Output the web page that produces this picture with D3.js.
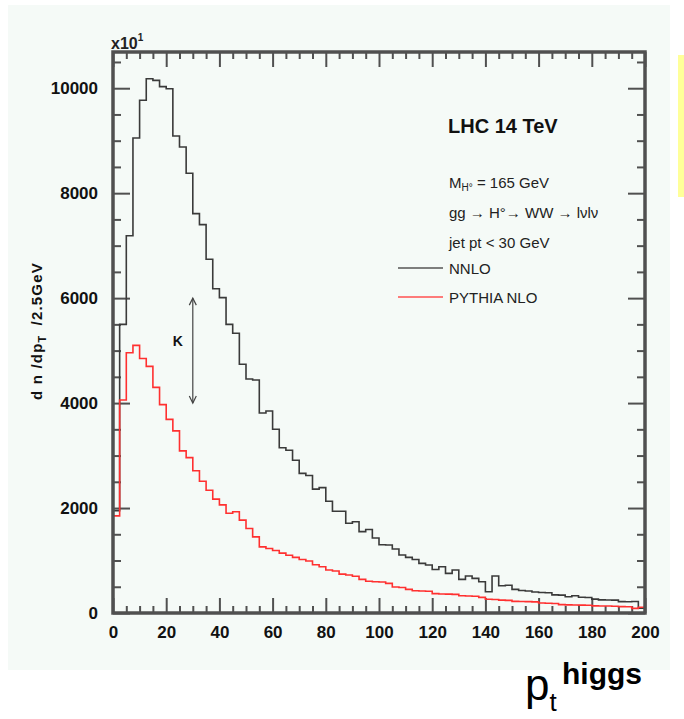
<!DOCTYPE html>
<html>
<head>
<meta charset="utf-8">
<script src="https://cdn.jsdelivr.net/npm/d3@7"></script>
<style>
  html, body { margin: 0; padding: 0; background: #ffffff; }
  svg { display: block; }
  text { font-family: "Liberation Sans", Arial, Helvetica, sans-serif; }
</style>
</head>
<body>
<svg id="chart" width="684" height="719"></svg>
<script>
// ---------------- data ----------------
const binWidth = 2.5;               // GeV
const xDomain = [0, 200];
const yDomain = [0, 10690];
const xMajorTicks = [0, 20, 40, 60, 80, 100, 120, 140, 160, 180, 200];
const yMajorTicks = [0, 2000, 4000, 6000, 8000, 10000];

// NNLO histogram (dn/dpT per 2.5 GeV, in units of 10^1)
const nnlo = [
  1950, 5500, 7190, 9050, 9770, 10180, 10150, 10030, 9990, 9090,
  8880, 8380, 7610, 7400, 6740, 6180, 6010, 5500, 5330, 4740,
  4460, 4440, 3810, 3850, 3500, 3150, 3100, 2910, 2660, 2620,
  2360, 2390, 2130, 1940, 1940, 1710, 1740, 1550, 1590, 1430,
  1300, 1295, 1220, 1105, 1060, 1020, 945, 915, 830, 880,
  755, 820, 640, 705, 660, 595, 405, 705, 520, 530,
  450, 430, 420, 400, 390, 385, 345, 340, 310, 330,
  300, 295, 265, 250, 248, 245, 216, 215, 220, 90
];
// PYTHIA NLO histogram
const pythia = [
  1850, 4060, 4960, 5100, 4850, 4700, 4300, 3970, 3690, 3470,
  3090, 2960, 2710, 2510, 2340, 2170, 2060, 1900, 1930, 1770,
  1610, 1450, 1260, 1230, 1190, 1140, 1100, 1060, 1020, 990,
  920, 880, 820, 800, 740, 725, 700, 640, 605, 596,
  590, 565, 495, 485, 451, 425, 419, 415, 370, 362,
  360, 355, 328, 324, 320, 298, 262, 258, 245, 240,
  222, 218, 216, 212, 190, 185, 182, 160, 155, 152,
  150, 148, 135, 133, 132, 130, 121, 118, 89, 110
];
const seriesNames = ["NNLO", "PYTHIA NLO"];
const seriesColors = ["#3a3a3a", "#ff3030"];
const infoLines = ["LHC 14 TeV", "M_H° = 165 GeV", "gg → H°→ WW → lνlν", "jet pt < 30 GeV"];
const kArrow = { x: 30, y0: 4000, y1: 6000, label: "K" };

// ---------------- layout ----------------
const svg = d3.select("#chart");
const L = 113, R = 645, T = 52, B = 613;
const x = d3.scaleLinear().domain(xDomain).range([L, R]);
const y = d3.scaleLinear().domain(yDomain).range([B, T]);

// page panels
svg.append("rect").attr("x", 0).attr("y", 0).attr("width", 684).attr("height", 719).attr("fill", "#ffffff");
svg.append("rect").attr("x", 8).attr("y", 5).attr("width", 662).attr("height", 665).attr("fill", "#f5faf7");
svg.append("rect").attr("x", 678).attr("y", 55).attr("width", 6).attr("height", 142).attr("fill", "#ffff99");

const axisColor = "#505050";

const xMinor = d3.range(0, 201, 5).filter(v => v % 20 !== 0);
const yMinor = d3.range(0, 10690, 500).filter(v => v % 2000 !== 0);

function styleAxis(g) {
  g.select(".domain").remove();
  g.selectAll(".tick line").attr("stroke", axisColor).attr("stroke-width", 2);
}

// bottom
svg.append("g").attr("transform", `translate(0,${B})`)
  .call(d3.axisBottom(x).tickValues(xMinor).tickSize(-7).tickFormat(""))
  .call(styleAxis);
const xAxisG = svg.append("g").attr("transform", `translate(0,${B})`)
  .call(d3.axisBottom(x).tickValues(xMajorTicks).tickSize(-15).tickPadding(13).tickFormat(d3.format("d")))
  .call(styleAxis);
xAxisG.selectAll("text").attr("font-size", 17).attr("font-weight", "bold").attr("fill", "#111");

// top
svg.append("g").attr("transform", `translate(0,${T})`)
  .call(d3.axisTop(x).tickValues(xMinor).tickSize(-7).tickFormat(""))
  .call(styleAxis);
svg.append("g").attr("transform", `translate(0,${T})`)
  .call(d3.axisTop(x).tickValues(xMajorTicks).tickSize(-15).tickFormat(""))
  .call(styleAxis);

// left
svg.append("g").attr("transform", `translate(${L},0)`)
  .call(d3.axisLeft(y).tickValues(yMinor).tickSize(-8).tickFormat(""))
  .call(styleAxis);
const yAxisG = svg.append("g").attr("transform", `translate(${L},0)`)
  .call(d3.axisLeft(y).tickValues(yMajorTicks).tickSize(-17).tickPadding(15).tickFormat(d3.format("d")))
  .call(styleAxis);
yAxisG.selectAll("text").attr("font-size", 17).attr("font-weight", "bold").attr("fill", "#111");

// right
svg.append("g").attr("transform", `translate(${R},0)`)
  .call(d3.axisRight(y).tickValues(yMinor).tickSize(-8).tickFormat(""))
  .call(styleAxis);
svg.append("g").attr("transform", `translate(${R},0)`)
  .call(d3.axisRight(y).tickValues(yMajorTicks).tickSize(-17).tickFormat(""))
  .call(styleAxis);

// histograms
function stepPoints(vals) {
  const pts = vals.map((v, i) => [i * binWidth, v]);
  pts.push([vals.length * binWidth, vals[vals.length - 1]]);
  return pts;
}
const line = d3.line().x(d => x(d[0])).y(d => y(d[1])).curve(d3.curveStepAfter);
[nnlo, pythia].forEach((vals, i) => {
  svg.append("path").datum(stepPoints(vals))
    .attr("d", line).attr("fill", "none")
    .attr("stroke", seriesColors[i]).attr("stroke-width", 1.6);
});

// frame
svg.append("rect").attr("x", L).attr("y", T).attr("width", R - L).attr("height", B - T)
  .attr("fill", "none").attr("stroke", axisColor).attr("stroke-width", 3.5);

// x10^1
const exp = svg.append("text").attr("x", 111).attr("y", 49).attr("font-size", 16).attr("font-weight", "bold").attr("fill", "#222");
exp.append("tspan").text("x10");
exp.append("tspan").attr("font-size", 10).attr("dy", -8).text("1");

// y title
const yt = svg.append("text").attr("transform", `translate(42,331) rotate(-90)`)
  .attr("text-anchor", "middle").attr("font-size", 15).attr("font-weight", "bold")
  .attr("letter-spacing", 1.2).attr("fill", "#111");
yt.append("tspan").text("d n /dp");
yt.append("tspan").attr("font-size", 11).attr("dy", 4).text("T");
yt.append("tspan").attr("dy", -4).attr("dx", 9).text("/2.5GeV");

// info text
svg.append("text").attr("x", 448).attr("y", 133).attr("font-size", 20).attr("font-weight", "bold")
  .attr("fill", "#111").text(infoLines[0]);
const m = svg.append("text").attr("x", 449).attr("y", 188).attr("font-size", 15).attr("fill", "#222");
m.append("tspan").text("M");
m.append("tspan").attr("font-size", 10).attr("dy", 3).text("H°");
m.append("tspan").attr("dy", -3).text(" = 165 GeV");
svg.append("text").attr("x", 449).attr("y", 218).attr("font-size", 15).attr("fill", "#222").text(infoLines[2]);
svg.append("text").attr("x", 449).attr("y", 248).attr("font-size", 15).attr("fill", "#222").text(infoLines[3]);

// legend
const legY = [268, 297];
seriesNames.forEach((name, i) => {
  svg.append("line").attr("x1", 398).attr("x2", 443).attr("y1", legY[i]).attr("y2", legY[i])
    .attr("stroke", i === 0 ? "#555" : "#ff5050").attr("stroke-width", 1.5);
  svg.append("text").attr("x", 449).attr("y", legY[i] + 6).attr("font-size", 15).attr("fill", "#222")
    .text(name);
});

// K arrow
const ax = x(kArrow.x), ay0 = y(kArrow.y0), ay1 = y(kArrow.y1);
svg.append("line").attr("x1", ax).attr("x2", ax).attr("y1", ay1).attr("y2", ay0).attr("stroke", "#444").attr("stroke-width", 1.2);
svg.append("path").attr("d", `M${ax - 3.5},${ay1 + 7} L${ax},${ay1} L${ax + 3.5},${ay1 + 7}`).attr("fill", "none").attr("stroke", "#444").attr("stroke-width", 1.2);
svg.append("path").attr("d", `M${ax - 3.5},${ay0 - 7} L${ax},${ay0} L${ax + 3.5},${ay0 - 7}`).attr("fill", "none").attr("stroke", "#444").attr("stroke-width", 1.2);
svg.append("text").attr("x", ax - 15).attr("y", (ay0 + ay1) / 2 - 5).attr("text-anchor", "middle")
  .attr("font-size", 14).attr("font-weight", "bold").attr("fill", "#111").text(kArrow.label);

// p_t^higgs
const pt = svg.append("text").attr("x", 525).attr("y", 700).attr("fill", "#000")
  .attr("font-family", "'DejaVu Sans', sans-serif");
pt.append("tspan").attr("font-size", 44).text("p");
pt.append("tspan").attr("font-size", 26).attr("dy", 11).text("t");
svg.append("text").attr("x", 562).attr("y", 684).attr("fill", "#000")
  .attr("font-family", "'DejaVu Sans', sans-serif")
  .attr("font-size", 30).attr("font-weight", "bold").text("higgs");
</script>
</body>
</html>
